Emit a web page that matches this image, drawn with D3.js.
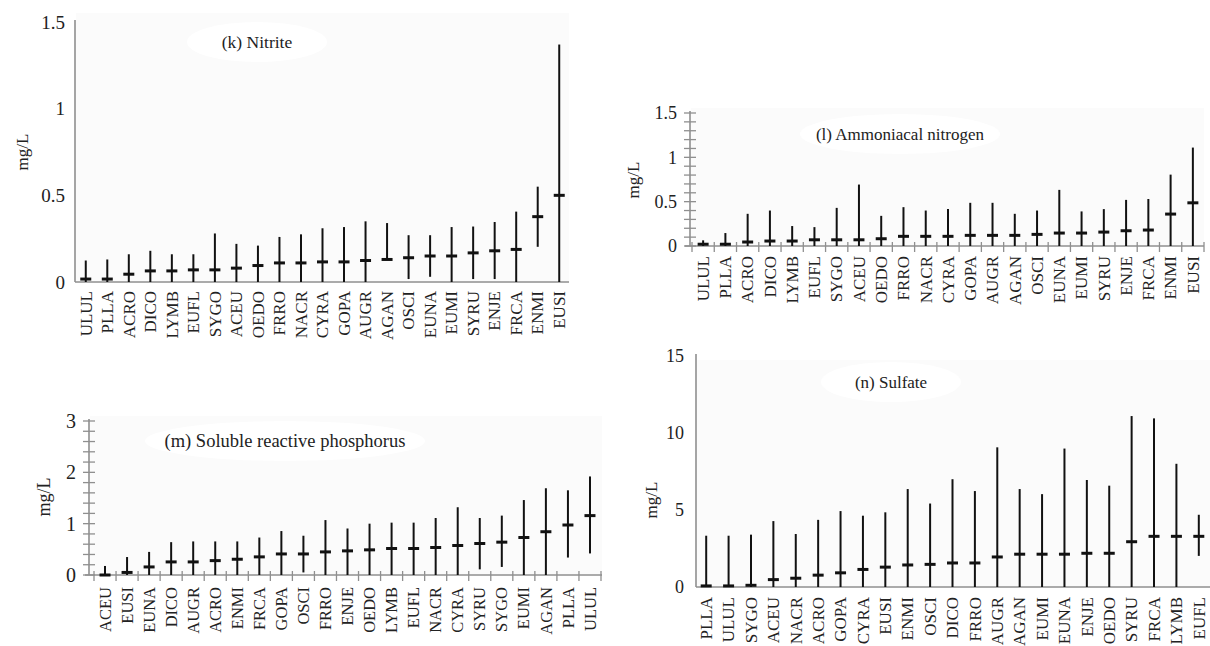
<!DOCTYPE html>
<html><head><meta charset="utf-8">
<script src="https://cdn.jsdelivr.net/npm/d3@7"></script>
<style>
html,body{margin:0;padding:0;background:#fff;}
svg{display:block;}
svg text{font-family:"Liberation Serif","Times New Roman",Times,"DejaVu Serif",serif !important;}
</style></head>
<body>
<svg id="chart" width="1210" height="646"></svg>
<script>
// ---------- DATA ----------
// (k) Nitrite
const catsK = ["ULUL","PLLA","ACRO","DICO","LYMB","EUFL","SYGO","ACEU","OEDO","FRRO","NACR","CYRA","GOPA","AUGR","AGAN","OSCI","EUNA","EUMI","SYRU","ENJE","FRCA","ENMI","EUSI"];
const maxK = [0.124,0.13,0.16,0.18,0.16,0.16,0.28,0.22,0.21,0.26,0.275,0.31,0.317,0.35,0.34,0.27,0.27,0.317,0.32,0.346,0.406,0.55,1.37];
const medK = [0.017,0.017,0.045,0.064,0.064,0.07,0.07,0.08,0.095,0.11,0.11,0.116,0.116,0.124,0.13,0.14,0.15,0.15,0.168,0.18,0.188,0.377,0.50];
const minK = [0,0,0,0,0,0,0,0,0,0,0,0,0,0,0.13,0.017,0.03,0,0.017,0.017,0,0.203,0];
const ticksK = [0,0.5,1,1.5];

// (l) Ammoniacal nitrogen
const catsL = ["ULUL","PLLA","ACRO","DICO","LYMB","EUFL","SYGO","ACEU","OEDO","FRRO","NACR","CYRA","GOPA","AUGR","AGAN","OSCI","EUNA","EUMI","SYRU","ENJE","FRCA","ENMI","EUSI"];
const maxL = [0.064,0.146,0.363,0.40,0.225,0.213,0.43,0.693,0.34,0.438,0.40,0.416,0.487,0.487,0.363,0.40,0.633,0.39,0.416,0.52,0.53,0.805,1.11];
const medL = [0.02,0.02,0.045,0.056,0.056,0.07,0.07,0.07,0.082,0.109,0.109,0.109,0.12,0.12,0.12,0.131,0.146,0.146,0.157,0.172,0.18,0.36,0.487];
const minL = [0,0,0,0,0,0,0,0,0,0,0,0,0,0,0,0,0,0,0,0,0,0,0];
const ticksL = [0,0.5,1,1.5];

// (m) Soluble reactive phosphorus
const catsM = ["ACEU","EUSI","EUNA","DICO","AUGR","ACRO","ENMI","FRCA","GOPA","OSCI","FRRO","ENJE","OEDO","LYMB","EUFL","NACR","CYRA","SYRU","SYGO","EUMI","AGAN","PLLA","ULUL"];
const maxM = [0.176,0.35,0.45,0.64,0.654,0.654,0.654,0.73,0.856,0.765,1.07,0.906,1.0,1.02,1.02,1.11,1.32,1.11,1.157,1.46,1.69,1.65,1.92];
const medM = [0,0.05,0.157,0.255,0.255,0.28,0.307,0.353,0.41,0.41,0.45,0.47,0.49,0.516,0.516,0.536,0.575,0.614,0.64,0.73,0.843,0.974,1.157];
const minM = [0,0,0,0,0,0,0,0,0,0.05,0,0,0,0,0,0,0,0.11,0.157,0,0,0.34,0.42];
const ticksM = [0,1,2,3];

// (n) Sulfate
const catsN = ["PLLA","ULUL","SYGO","ACEU","NACR","ACRO","GOPA","CYRA","EUSI","ENMI","OSCI","DICO","FRRO","AUGR","AGAN","EUMI","EUNA","ENJE","OEDO","SYRU","FRCA","LYMB","EUFL"];
const maxN = [3.33,3.33,3.4,4.28,3.44,4.36,4.93,4.63,4.85,6.36,5.42,7.0,6.23,9.07,6.36,6.03,8.99,6.95,6.58,11.1,10.95,8.0,4.69];
const medN = [0.07,0.07,0.11,0.48,0.57,0.77,0.92,1.14,1.29,1.43,1.47,1.56,1.56,1.95,2.13,2.13,2.13,2.19,2.19,2.94,3.29,3.29,3.29];
const minN = [0,0,0,0,0,0,0,0,0,0,0,0,0,0,0,0,0,0,0,0,0,0,2.02];
const ticksN = [0,5,10,15];

// ---------- DRAW ----------
const svg = d3.select("#chart");
const AXIS = "#8f8f8f";
const FONT = "Liberation Serif, Times New Roman, DejaVu Serif, serif";

function panel(o) {
  const g = svg.append("g");
  const x = d3.scaleBand().domain(o.cats).range(o.xr).padding(0);
  const y = d3.scaleLinear().domain(o.yd).range(o.yr);
  const cx = c => x(c) + x.bandwidth() / 2;

  // plot background
  g.append("rect").attr("x", o.bg[0]).attr("y", o.bg[1])
    .attr("width", o.bg[2] - o.bg[0]).attr("height", o.bg[3] - o.bg[1])
    .attr("fill", "#fbfbfb");
  g.append("ellipse").attr("cx", o.title[1]).attr("cy", o.title[2] - 6)
    .attr("rx", o.title[3]).attr("ry", 20).attr("fill", "#fff");

  // y axis labels
  const ya = d3.axisLeft(y).tickValues(o.ticks).tickSize(0).tickPadding(o.ypad).tickFormat(d3.format(""));
  const yg = g.append("g").attr("transform", `translate(${o.ax},0)`).call(ya)
    .attr("font-family", FONT);
  yg.select(".domain").remove();
  yg.selectAll("text").attr("font-size", o.fy).attr("fill", "#222");

  // axis lines
  g.append("line").attr("x1", o.ax).attr("x2", o.ax)
    .attr("y1", y(o.yd[1]) - 2).attr("y2", y(0))
    .attr("stroke", AXIS).attr("stroke-width", 1.6);
  g.append("line").attr("x1", o.xline[0]).attr("x2", o.xline[1])
    .attr("y1", y(0)).attr("y2", y(0))
    .attr("stroke", AXIS).attr("stroke-width", 1.6);

  // minor ticks
  if (o.minor) {
    const n = Math.round(o.yd[1] / o.minor);
    const mv = d3.range(n + 1).map(i => i * o.minor);
    g.selectAll(".mt").data(mv).join("line")
      .attr("x1", o.ax - 6).attr("x2", o.ax + 6)
      .attr("y1", d => y(d)).attr("y2", d => y(d))
      .attr("stroke", AXIS).attr("stroke-width", 1.3);
    const bounds = o.cats.map(c => x(c)).concat([x(o.cats[o.cats.length - 1]) + x.bandwidth()]);
    g.selectAll(".xt").data(bounds).join("line")
      .attr("x1", d => d).attr("x2", d => d)
      .attr("y1", y(0) - 4).attr("y2", y(0) + 6)
      .attr("stroke", AXIS).attr("stroke-width", 1.3);
  }

  // x labels
  const xa = d3.axisBottom(x).tickSize(0);
  const xg = g.append("g").attr("transform", `translate(0,${y(0)})`).call(xa)
    .attr("font-family", FONT);
  xg.select(".domain").remove();
  xg.selectAll("text").attr("font-size", o.fx).attr("fill", "#222")
    .attr("transform", "rotate(-90)")
    .attr("text-anchor", "end")
    .attr("x", -o.xpad).attr("y", 0).attr("dy", "0.34em");

  // whiskers
  const idx = d3.range(o.cats.length);
  g.selectAll(".wh").data(idx).join("line")
    .attr("x1", i => cx(o.cats[i])).attr("x2", i => cx(o.cats[i]))
    .attr("y1", i => y(o.min[i])).attr("y2", i => y(o.max[i]))
    .attr("stroke", "#111").attr("stroke-width", 2);
  g.selectAll(".md").data(idx).join("line")
    .attr("x1", i => cx(o.cats[i]) - 5.5).attr("x2", i => cx(o.cats[i]) + 5.5)
    .attr("y1", i => y(o.med[i])).attr("y2", i => y(o.med[i]))
    .attr("stroke", "#111").attr("stroke-width", 3);

  // title
  g.append("text").attr("x", o.title[1]).attr("y", o.title[2])
    .attr("text-anchor", "middle").attr("font-size", o.ft).attr("fill", "#222")
    .attr("font-family", FONT)
    .text(o.title[0]);
  // y label
  g.append("text").attr("transform", `translate(${o.ylab[0]},${o.ylab[1]}) rotate(-90)`)
    .attr("text-anchor", "middle").attr("dy", "0.35em").attr("font-size", o.fl).attr("fill", "#222")
    .attr("font-family", FONT)
    .text("mg/L");
}

panel({cats: catsK, max: maxK, med: medK, min: minK, ticks: ticksK,
  xr: [75, 570], yd: [0, 1.5], yr: [282, 22], ax: 75, xline: [75, 569],
  ypad: 10, xpad: 9, bg: [76, 13, 569, 281], fy: 19, fx: 17, ft: 17.5, fl: 17,
  title: ["(k) Nitrite", 257, 48, 70], ylab: [22, 152]});

panel({cats: catsL, max: maxL, med: medL, min: minL, ticks: ticksL,
  xr: [692, 1204], yd: [0, 1.5], yr: [246, 113], ax: 690, xline: [685, 1204],
  ypad: 13, xpad: 10, bg: [691, 108, 1204, 245], minor: 0.1, fy: 18, fx: 17, ft: 17, fl: 17,
  title: ["(l) Ammoniacal nitrogen", 900, 140, 100], ylab: [633, 180]});

panel({cats: catsM, max: maxM, med: medM, min: minM, ticks: ticksM,
  xr: [94, 601], yd: [0, 3], yr: [575, 421], ax: 89, xline: [85, 602],
  ypad: 13, xpad: 12, bg: [90, 416, 602, 574], minor: 0.2, fy: 20, fx: 16.5, ft: 18.5, fl: 18,
  title: ["(m) Soluble reactive phosphorus", 285, 447, 140], ylab: [44, 497]});

panel({cats: catsN, max: maxN, med: medN, min: minN, ticks: ticksN,
  xr: [695, 1210], yd: [0, 15], yr: [587, 356], ax: 696, xline: [696, 1210],
  ypad: 12, xpad: 10, bg: [697, 360, 1210, 586], fy: 18, fx: 17, ft: 17, fl: 17,
  title: ["(n) Sulfate", 891, 388, 70], ylab: [651, 500]});
</script>
</body></html>
